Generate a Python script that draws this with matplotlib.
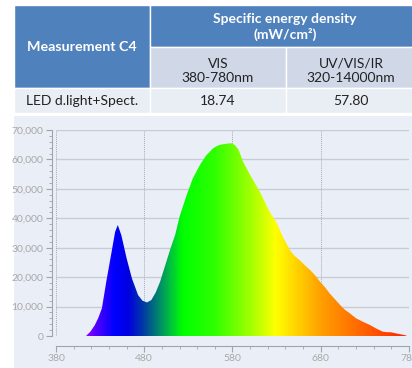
import numpy as np
import matplotlib
matplotlib.use("Agg")
from matplotlib import pyplot as plt
from matplotlib.colors import LinearSegmentedColormap
from matplotlib.patches import Rectangle

plt.rcParams['font.family'] = ['Lato', 'DejaVu Sans']

# table contents
row_label = "Measurement C4"
group_header = "Specific energy density\n(mW/cm²)"
col_headers = ["VIS\n380-780nm", "UV/VIS/IR\n320-14000nm"]
sample_name = "LED d.light+Spect."
sample_values = ["18.74", "57.80"]

# spectrum (wavelength nm, counts)
wavelength = [414, 419, 424, 428, 432, 437, 443, 447, 450, 454, 460, 466, 473, 478,
              483, 488, 493, 498, 505, 510, 515, 520, 528, 535, 543, 550, 558, 564,
              570, 575, 579, 583, 587, 592, 600, 611, 622, 630, 637, 645, 650, 656,
              662, 668, 674, 679, 685, 690, 696, 702, 707, 713, 720, 728, 736, 743,
              750, 755, 760, 765, 770, 775, 778]
counts = [0, 1500, 3700, 6200, 9400, 18500, 28600, 35400, 37700, 34300, 26400, 19600, 13900, 12000,
          11400, 12200, 14800, 18500, 25200, 30000, 34300, 40500, 47900, 53500, 58100, 61300, 63800, 64800,
          65200, 65400, 65500, 64800, 63200, 59200, 54700, 49000, 42200, 38500, 33700, 29200, 27300, 25800,
          24000, 22400, 20500, 18500, 16500, 14500, 12500, 10500, 9000, 7700, 6000, 4800, 3700, 2500,
          1500, 1300, 1250, 900, 600, 300, 0]

x_ticks = [380, 480, 580, 680, 780]
y_ticks = [0, 10000, 20000, 30000, 40000, 50000, 60000, 70000]

header_blue = "#4f81bd"
sub_blue = "#d0d8e8"
row_bg = "#e9edf4"
panel_bg = "#eaeef6"

W, H = 412, 368
fig = plt.figure(figsize=(W / 100, H / 100), dpi=100)
fig.patch.set_facecolor("white")

def px_rect(x0, y0, x1, y1, color):
    # rectangle in pixel coords (y from top)
    fig.patches.append(Rectangle((x0 / W, 1 - y1 / H), (x1 - x0) / W, (y1 - y0) / H,
                                 transform=fig.transFigure, facecolor=color,
                                 edgecolor="white", linewidth=1.0, zorder=-1))

def px_text(x, y, s, **kw):
    fig.text(x / W, 1 - y / H, s, ha="center", va="center", **kw)

# table
px_rect(14, 5, 150, 88, header_blue)
px_rect(150, 5, 414, 47, header_blue)
px_rect(150, 47, 286, 88, sub_blue)
px_rect(286, 47, 414, 88, sub_blue)
px_rect(14, 88, 150, 113, row_bg)
px_rect(150, 88, 286, 113, row_bg)
px_rect(286, 88, 414, 113, row_bg)

px_text(82, 47, row_label, color="white", fontsize=10.3, fontweight="bold")
px_text(285, 27, group_header, color="white", fontsize=10, fontweight="bold", linespacing=1.3)
px_text(218, 71, col_headers[0], color="#222222", fontsize=10, linespacing=1.3)
px_text(351, 71, col_headers[1], color="#222222", fontsize=10, linespacing=1.3)
px_text(82, 101, sample_name, color="#222222", fontsize=10)
px_text(218, 101, sample_values[0], color="#222222", fontsize=10)
px_text(351, 101, sample_values[1], color="#222222", fontsize=10)

# chart panel background
fig.patches.append(Rectangle((14 / W, 0), (W - 14) / W, (H - 116) / H,
                             transform=fig.transFigure, facecolor=panel_bg,
                             edgecolor="none", zorder=-1))

ax = fig.add_axes([56 / W, (H - 336) / H, 353 / W, 206 / H])
ax.set_facecolor(panel_bg)
ax.set_xlim(380, 780)
ax.set_ylim(0, 70000)

for y in y_ticks[1:]:
    ax.axhline(y, color="#c8ccd4", linewidth=1.0, zorder=1)
for x in x_ticks:
    ax.axvline(x, color="#a8acb4", linewidth=0.7, linestyle=(0, (1, 1)), zorder=1)

# rainbow fill, clipped to the spectrum outline
spectrum = LinearSegmentedColormap.from_list("spec", [
    (0.00, "#9000ff"), (0.03, "#5000ff"), (0.085, "#0000ff"), (0.13, "#0000e0"),
    (0.18, "#0040a0"), (0.22, "#008070"), (0.26, "#00c040"), (0.30, "#00ff00"),
    (0.40, "#30ff00"), (0.51, "#a0ff00"), (0.59, "#ffff00"), (0.73, "#ffa000"),
    (0.87, "#ff6000"), (1.00, "#ff2000")])
grad = np.linspace(0, 1, 400).reshape(1, -1)
img = ax.imshow(grad, extent=[414, 778, 0, 70000], aspect="auto", cmap=spectrum,
                zorder=2, interpolation="bilinear")
poly = ax.fill_between(wavelength, counts, 0, color="none", linewidth=0)
img.set_clip_path(poly.get_paths()[0], transform=ax.transData)

# axes styling
for side in ["top", "right"]:
    ax.spines[side].set_visible(False)
ax.spines["left"].set_position(("outward", 3))
ax.spines["bottom"].set_position(("outward", 7))
ax.spines["left"].set_color("#a0a4ac")
ax.spines["bottom"].set_color("#a0a4ac")
ax.set_xticks(x_ticks)
ax.set_xticks(np.arange(380, 781, 20), minor=True)
ax.set_yticks(y_ticks)
ax.set_yticks(np.arange(0, 70001, 2000), minor=True)
ax.set_yticklabels([f"{v:,}" for v in y_ticks])
ax.tick_params(axis="both", colors="#a0a4ac", labelcolor="#a8a8a8", labelsize=7.5,
               length=4, width=0.8)
ax.tick_params(axis="both", which="minor", length=2, colors="#a0a4ac")
ax.tick_params(axis="x", pad=2)
ax.tick_params(axis="y", pad=2)

fig.savefig("out.png", dpi=100)
